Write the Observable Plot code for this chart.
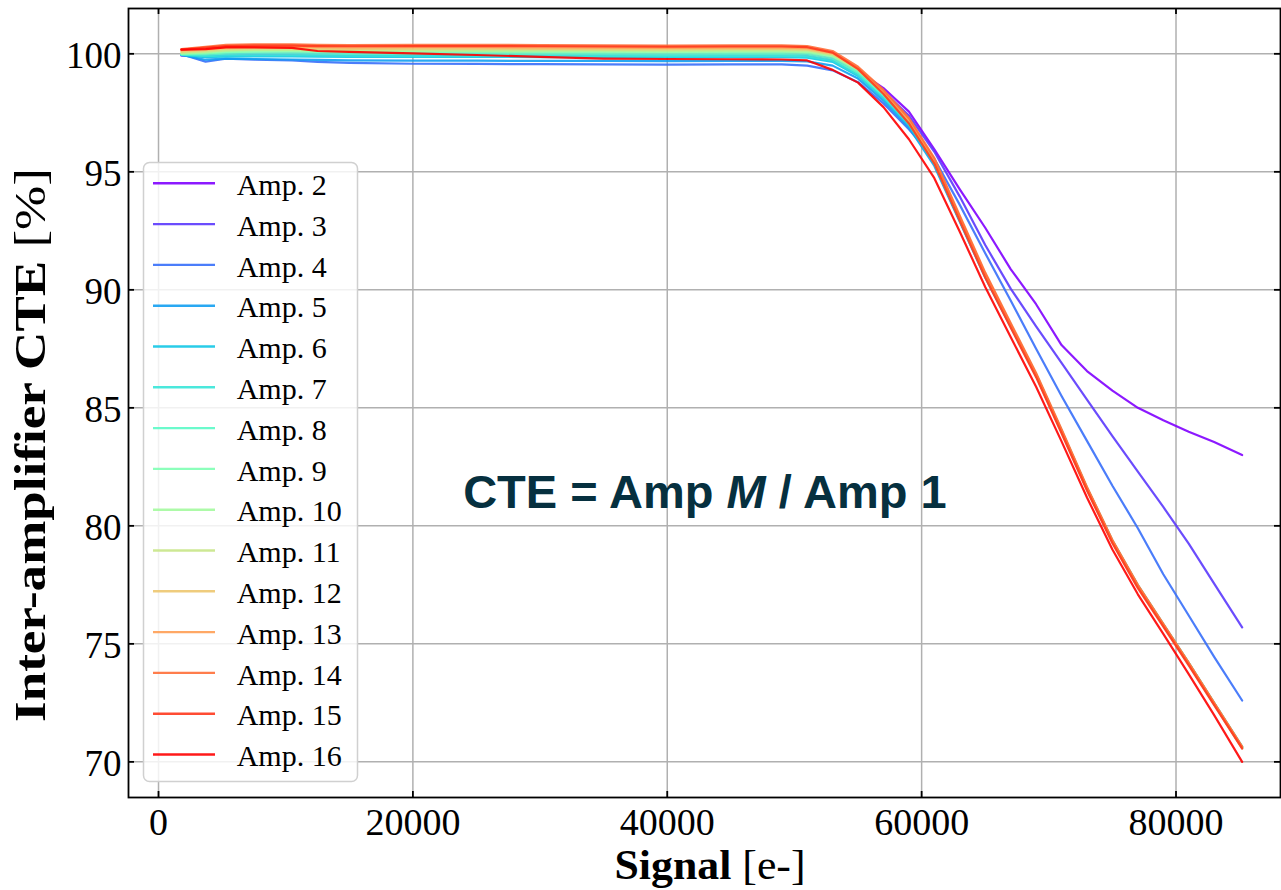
<!DOCTYPE html>
<html>
<head>
<meta charset="utf-8">
<script src="https://cdn.jsdelivr.net/npm/d3@7"></script>
<script src="https://cdn.jsdelivr.net/npm/@observablehq/plot@0.6"></script>
<style>
  html, body { margin: 0; padding: 0; background: #ffffff; }
  #chart svg { display: block; }
</style>
</head>
<body>
<div id="chart"></div>
<script>
// ---------------- data ----------------
const signal = [1800, 3700, 5300, 7500, 10500, 12500, 15000, 20000, 25000, 30000, 35000, 40000, 45000, 49000, 51000,
  53000, 55000, 57000, 59000, 61000, 63000, 65000, 67000, 69000, 71000, 73000, 75000, 77000, 79000, 81000, 83000, 85200];

const amp2  = [99.97, 99.93, 99.98, 100.0, 100.02, 100.01, 100.01, 100.01, 100.01, 100.0, 100.0, 99.99, 100.0, 100.01, 99.99,
  99.8, 99.28, 98.55, 97.55, 95.95, 94.26, 92.63, 90.88, 89.39, 87.66, 86.56, 85.73, 85.0, 84.47, 83.99, 83.55, 83.0];
const amp3  = [99.92, 99.88, 99.93, 99.95, 99.96, 99.95, 99.95, 99.95, 99.95, 99.94, 99.94, 99.93, 99.94, 99.95, 99.93,
  99.72, 99.15, 98.4, 97.38, 95.85, 93.95, 91.9, 90.05, 88.45, 86.9, 85.35, 83.8, 82.3, 80.8, 79.25, 77.55, 75.7];
const amp4  = [99.98, 99.67, 99.79, 99.75, 99.72, 99.66, 99.62, 99.58, 99.57, 99.56, 99.55, 99.54, 99.55, 99.55, 99.5,
  99.3, 98.8, 97.9, 96.8, 95.55, 93.6, 91.55, 89.55, 87.5, 85.5, 83.6, 81.7, 79.9, 77.95, 76.2, 74.45, 72.6];
const amp5  = [99.95, 99.75, 99.8, 99.78, 99.76, 99.74, 99.72, 99.71, 99.71, 99.7, 99.7, 99.69, 99.7, 99.7, 99.68,
  99.5, 98.95, 98.02, 96.88, 95.25, 92.88, 90.52, 88.44, 86.35, 83.98, 81.56, 79.32, 77.43, 75.78, 74.14, 72.44, 70.6];
const amp6  = [99.95, 99.86, 99.88, 99.89, 99.89, 99.88, 99.87, 99.87, 99.87, 99.86, 99.86, 99.85, 99.86, 99.86, 99.84,
  99.66, 99.06, 98.12, 96.97, 95.32, 92.93, 90.58, 88.5, 86.4, 84.03, 81.6, 79.37, 77.48, 75.83, 74.19, 72.49, 70.64];
const amp7  = [99.96, 99.9, 99.93, 99.94, 99.94, 99.93, 99.92, 99.92, 99.92, 99.91, 99.91, 99.9, 99.91, 99.91, 99.89,
  99.72, 99.12, 98.18, 97.02, 95.36, 92.96, 90.6, 88.52, 86.42, 84.05, 81.62, 79.38, 77.49, 75.84, 74.2, 72.5, 70.65];
const amp8  = [99.98, 99.97, 100.01, 100.02, 100.02, 100.01, 100.0, 100.0, 100.0, 99.99, 99.99, 99.98, 99.99, 99.99, 99.97,
  99.8, 99.2, 98.25, 97.07, 95.4, 92.98, 90.6, 88.5, 86.4, 84.02, 81.59, 79.35, 77.46, 75.81, 74.17, 72.47, 70.62];
const amp9  = [100.0, 100.02, 100.07, 100.09, 100.09, 100.08, 100.07, 100.07, 100.07, 100.06, 100.06, 100.05, 100.06, 100.06, 100.04,
  99.88, 99.28, 98.32, 97.12, 95.44, 93.0, 90.6, 88.48, 86.37, 83.98, 81.55, 79.31, 77.42, 75.78, 74.14, 72.44, 70.58];
const amp10 = [100.02, 100.06, 100.12, 100.14, 100.14, 100.13, 100.12, 100.12, 100.12, 100.11, 100.11, 100.1, 100.11, 100.11, 100.09,
  99.92, 99.32, 98.35, 97.15, 95.46, 93.02, 90.62, 88.5, 86.38, 83.99, 81.56, 79.32, 77.43, 75.79, 74.15, 72.45, 70.59];
const amp11 = [100.05, 100.1, 100.16, 100.18, 100.18, 100.17, 100.16, 100.17, 100.16, 100.16, 100.15, 100.15, 100.16, 100.16, 100.14,
  99.96, 99.35, 98.38, 97.18, 95.48, 93.03, 90.63, 88.5, 86.38, 84.0, 81.57, 79.33, 77.44, 75.79, 74.16, 72.46, 70.6];
const amp12 = [100.1, 100.15, 100.22, 100.24, 100.24, 100.22, 100.21, 100.22, 100.22, 100.21, 100.2, 100.2, 100.21, 100.21, 100.19,
  100.0, 99.38, 98.4, 97.2, 95.5, 93.05, 90.65, 88.52, 86.4, 84.01, 81.58, 79.34, 77.45, 75.8, 74.17, 72.47, 70.6];
const amp13 = [100.15, 100.22, 100.28, 100.3, 100.3, 100.28, 100.27, 100.28, 100.28, 100.27, 100.26, 100.25, 100.26, 100.26, 100.24,
  100.04, 99.4, 98.42, 97.22, 95.52, 93.08, 90.68, 88.55, 86.43, 84.04, 81.6, 79.36, 77.46, 75.81, 74.18, 72.48, 70.62];
const amp14 = [100.2, 100.3, 100.38, 100.4, 100.4, 100.38, 100.37, 100.38, 100.38, 100.37, 100.36, 100.35, 100.36, 100.36, 100.33,
  100.12, 99.45, 98.47, 97.28, 95.58, 93.14, 90.73, 88.6, 86.48, 84.09, 81.65, 79.4, 77.5, 75.85, 74.2, 72.5, 70.65];
const amp15 = [100.18, 100.26, 100.33, 100.35, 100.35, 100.33, 100.32, 100.33, 100.33, 100.32, 100.31, 100.3, 100.31, 100.31, 100.28,
  100.05, 99.35, 98.3, 97.05, 95.35, 92.92, 90.52, 88.4, 86.3, 83.92, 81.5, 79.26, 77.36, 75.73, 74.09, 72.4, 70.56];
const amp16 = [100.18, 100.2, 100.27, 100.27, 100.25, 100.12, 100.08, 100.02, 99.95, 99.87, 99.8, 99.78, 99.77, 99.76, 99.72,
  99.32, 98.78, 97.74, 96.38, 94.73, 92.46, 90.12, 88.0, 85.89, 83.58, 81.2, 79.0, 77.1, 75.42, 73.72, 71.98, 70.0];

const ampLabels = ["Amp. 2", "Amp. 3", "Amp. 4", "Amp. 5", "Amp. 6", "Amp. 7", "Amp. 8", "Amp. 9",
  "Amp. 10", "Amp. 11", "Amp. 12", "Amp. 13", "Amp. 14", "Amp. 15", "Amp. 16"];
const series = [amp2, amp3, amp4, amp5, amp6, amp7, amp8, amp9, amp10, amp11, amp12, amp13, amp14, amp15, amp16];

const xTicks = [0, 20000, 40000, 60000, 80000];
const yTicks = [70, 75, 80, 85, 90, 95, 100];
const annotationParts = ["CTE = Amp ", "M", " / Amp 1"];
const annotationAt = [43000, 80.75];

// ---------------- build ----------------
const rows = series.flatMap((vals, i) => vals.map((v, j) => ({amp: ampLabels[i], signal: signal[j], cte: v})));

// matplotlib "rainbow" colormap
function rainbow(t) {
  const r = Math.min(1, Math.abs(2 * t - 0.5));
  const g = Math.sin(Math.PI * t);
  const b = Math.cos(Math.PI * t / 2);
  return d3.rgb(r * 255, g * 255, b * 255).formatHex();
}
const colors = ampLabels.map((_, i) => rainbow(i / (ampLabels.length - 1)));

const W = 1281, H = 890;
const mL = 128, mR = 1, mT = 8, mB = 93;
const frameW = W - mL - mR, frameH = H - mT - mB;
const tick = 6;
const serif = "'Liberation Serif', 'Times New Roman', serif";

const plot = Plot.plot({
  width: W, height: H,
  marginLeft: mL, marginRight: mR, marginTop: mT, marginBottom: mB,
  x: {domain: [-2360, 88216], axis: null},
  y: {domain: [68.49, 101.92], axis: null},
  color: {domain: ampLabels, range: colors},
  style: {background: "#ffffff", fontFamily: serif, color: "#000"},
  marks: [
    Plot.gridX(xTicks, {stroke: "#b0b0b0", strokeOpacity: 1, strokeWidth: 1.5}),
    Plot.gridY(yTicks, {stroke: "#b0b0b0", strokeOpacity: 1, strokeWidth: 1.5}),
    Plot.line(rows, {x: "signal", y: "cte", z: "amp", stroke: "amp", strokeWidth: 2.2, strokeOpacity: 0.9}),
    Plot.frame({stroke: "#000", strokeWidth: 1.8}),
    // inward ticks on four sides
    Plot.ruleX(xTicks, {stroke: "#000", strokeWidth: 1.8, insetTop: frameH - tick}),
    Plot.ruleX(xTicks, {stroke: "#000", strokeWidth: 1.8, insetBottom: frameH - tick}),
    Plot.ruleY(yTicks, {stroke: "#000", strokeWidth: 1.8, insetRight: frameW - tick}),
    Plot.ruleY(yTicks, {stroke: "#000", strokeWidth: 1.8, insetLeft: frameW - tick}),
    // tick labels
    Plot.text(xTicks, {x: d => d, frameAnchor: "bottom", lineAnchor: "bottom", dy: 37, fontSize: 38, fill: "#000", text: d => String(d)}),
    Plot.text(yTicks, {y: d => d, frameAnchor: "left", textAnchor: "end", lineAnchor: "middle", dx: -7, dy: 2, fontSize: 37, fill: "#000", text: d => String(d)})
  ]
});

const svg = d3.select(plot);
const sx = plot.scale("x"), sy = plot.scale("y");

// annotation
const ann = svg.append("text")
  .attr("x", sx.apply(annotationAt[0]))
  .attr("y", sy.apply(annotationAt[1]))
  .attr("text-anchor", "middle")
  .attr("font-family", "'Liberation Sans', Arial, sans-serif")
  .attr("font-weight", "bold")
  .attr("font-size", 47)
  .attr("fill", "#06303f");
ann.append("tspan").text(annotationParts[0]);
ann.append("tspan").attr("font-style", "italic").text(annotationParts[1]);
ann.append("tspan").text(annotationParts[2]);

// x label
const xl = svg.append("text")
  .attr("x", 710).attr("y", 879)
  .attr("text-anchor", "middle")
  .attr("font-family", serif).attr("font-size", 43).attr("fill", "#000")
  .attr("textLength", 191).attr("lengthAdjust", "spacingAndGlyphs");
xl.append("tspan").attr("font-weight", "bold").text("Signal ");
xl.append("tspan").text("[e-]");

// y label
const yl = svg.append("text")
  .attr("transform", "translate(45,445) rotate(-90)")
  .attr("text-anchor", "middle")
  .attr("font-family", serif).attr("font-size", 44).attr("fill", "#000")
  .attr("textLength", 554).attr("lengthAdjust", "spacingAndGlyphs");
yl.append("tspan").attr("font-weight", "bold").text("Inter-amplifier CTE ");
yl.append("tspan").text("[%]");

// legend
const lg = svg.append("g");
lg.append("rect")
  .attr("x", 143.5).attr("y", 162.5).attr("width", 214).attr("height", 619)
  .attr("rx", 6).attr("ry", 6)
  .attr("fill", "#ffffff").attr("fill-opacity", 0.82)
  .attr("stroke", "#d0d0d0").attr("stroke-width", 1.5);
ampLabels.forEach((name, i) => {
  const yy = 183.3 + i * 40.8;
  lg.append("line")
    .attr("x1", 153).attr("x2", 215).attr("y1", yy).attr("y2", yy)
    .attr("stroke", colors[i]).attr("stroke-opacity", 0.9).attr("stroke-width", 2.4);
  lg.append("text")
    .attr("x", 236.7).attr("y", yy + 11.7)
    .attr("text-anchor", "start")
    .attr("font-family", serif).attr("font-size", 30).attr("fill", "#000")
    .text(name);
});

document.getElementById("chart").appendChild(plot);
</script>
</body>
</html>
